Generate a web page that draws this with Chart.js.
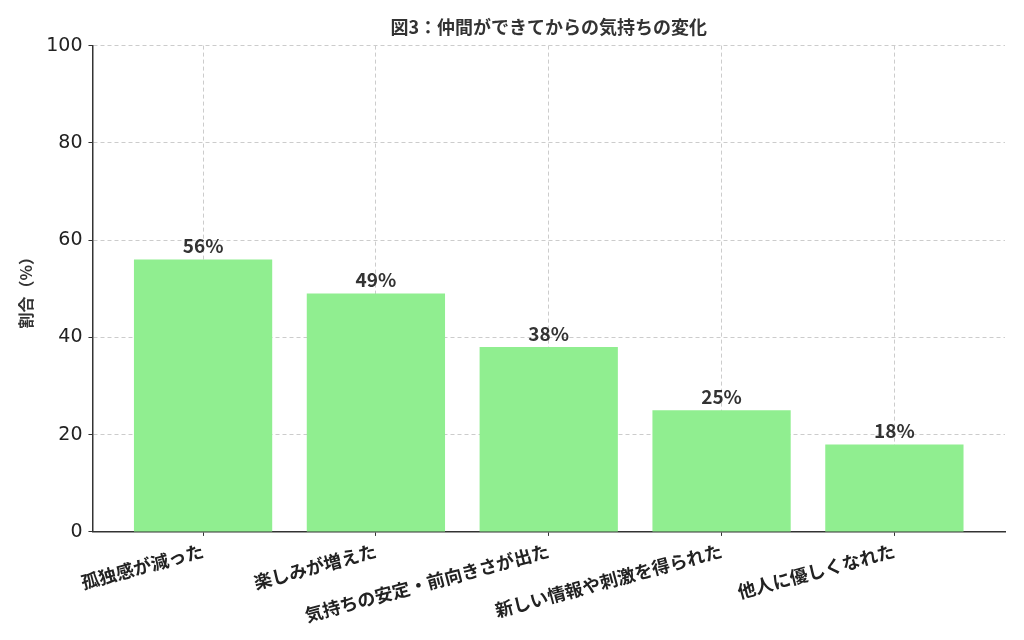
<!DOCTYPE html>
<html>
<head>
<meta charset="utf-8">
<script src="https://cdn.jsdelivr.net/npm/chart.js@4/dist/chart.umd.min.js"></script>
<style>
  html, body { margin: 0; padding: 0; background: #fff; }
  #wrap { width: 1024px; height: 640px; }
</style>
</head>
<body>
<div id="wrap"><canvas id="feelings"></canvas></div>
<script>
var labels = ["孤独感が減った", "楽しみが増えた", "気持ちの安定・前向きさが出た", "新しい情報や刺激を得られた", "他人に優しくなれた"];
var values = [56, 49, 38, 25, 18];
var yTicks = [0, 20, 40, 60, 80, 100];

var jpFont = "'Noto Sans CJK JP', 'Noto Sans', sans-serif";

// draws the "56%" labels above each bar
var valueLabels = {
    id: 'valueLabels',
    afterDatasetsDraw: function (chart) {
        var c = chart.ctx;
        var meta = chart.getDatasetMeta(0);
        c.save();
        c.font = "bold 19px " + jpFont;
        c.fillStyle = "#333";
        c.textAlign = "center";
        c.textBaseline = "bottom";
        meta.data.forEach(function (bar, i) {
            c.fillText(values[i] + "%", bar.x, bar.y - 4);
        });
        c.restore();
    }
};

var ctx = document.getElementById('feelings');
var myChart = new Chart(ctx, {
    type: 'bar',
    data: {
        datasets: [{
            data: values.map(function (v, i) { return { x: i, y: v }; }),
            backgroundColor: "#90EE90",
            borderWidth: 0,
            barPercentage: 0.8,
            categoryPercentage: 1.0
        }]
    },
    plugins: [valueLabels],
    options: {
        responsive: true,
        maintainAspectRatio: false,
        animation: false,
        layout: { padding: { left: 16, right: 19, top: 16, bottom: 10 } },
        plugins: {
            legend: { display: false },
            tooltip: { enabled: false },
            title: {
                display: true,
                fullSize: false,
                text: "図3：仲間ができてからの気持ちの変化",
                font: { family: jpFont, size: 18, weight: 'bold' },
                color: "#333",
                padding: { top: 0, bottom: 8 }
            }
        },
        scales: {
            x: {
                type: 'linear',
                min: -0.64,
                max: 4.64,
                offset: false,
                afterBuildTicks: function (axis) {
                    axis.ticks = labels.map(function (l, i) { return { value: i }; });
                },
                ticks: {
                    autoSkip: false,
                    minRotation: 15,
                    maxRotation: 15,
                    font: { family: jpFont, size: 18, weight: 'bold' },
                    color: "#222",
                    padding: 4,
                    callback: function (v) { return labels[v]; }
                },
                grid: {
                    offset: false,
                    color: "#cccccc",
                    lineWidth: 1,
                    tickColor: "#333",
                    tickLength: 4
                },
                border: { display: true, color: "#333", width: 1.5, dash: [4, 3] }
            },
            y: {
                min: 0,
                max: 100,
                afterBuildTicks: function (axis) {
                    axis.ticks = yTicks.map(function (v) { return { value: v }; });
                },
                ticks: {
                    font: { family: "'DejaVu Sans', sans-serif", size: 19 },
                    color: "#222",
                    padding: 6
                },
                title: {
                    display: true,
                    text: "割合（%）",
                    font: { family: jpFont, size: 16, weight: 'bold' },
                    color: "#333",
                    padding: { top: 0, bottom: 5 }
                },
                grid: {
                    color: "#cccccc",
                    lineWidth: 1,
                    tickColor: "#333",
                    tickLength: 4
                },
                border: { display: true, color: "#333", width: 1.5, dash: [4, 3] }
            }
        }
    }
});
</script>
</body>
</html>
